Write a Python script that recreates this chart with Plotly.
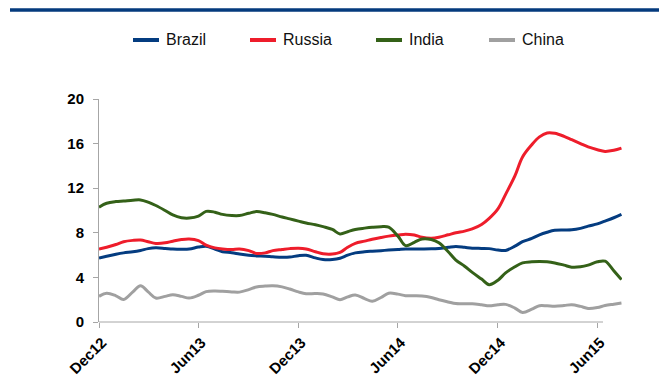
import pandas as pd
import plotly.graph_objects as go

# Semi-monthly observations, Dec 2012 - Jul 2015
dates = pd.date_range("2012-12-01", periods=64, freq="SMS")

brazil = [5.73, 5.9, 6.08, 6.2, 6.3, 6.42, 6.58, 6.65, 6.6, 6.55, 6.53, 6.55, 6.72, 6.8, 6.55, 6.3,
          6.22, 6.1, 5.98, 5.93, 5.9, 5.85, 5.8, 5.82, 5.95, 5.98, 5.75, 5.6, 5.6, 5.72, 6.0, 6.2,
          6.3, 6.35, 6.4, 6.45, 6.5, 6.55, 6.55, 6.55, 6.56, 6.6, 6.7, 6.78, 6.7, 6.62, 6.6, 6.58,
          6.45, 6.42, 6.8, 7.2, 7.5, 7.82, 8.05, 8.22, 8.25, 8.27, 8.4, 8.6, 8.8, 9.05, 9.35, 9.65]

russia = [6.55, 6.7, 6.95, 7.2, 7.32, 7.35, 7.2, 7.05, 7.1, 7.25, 7.4, 7.45, 7.3, 6.9, 6.65, 6.55,
          6.5, 6.55, 6.4, 6.15, 6.2, 6.4, 6.5, 6.58, 6.62, 6.55, 6.3, 6.12, 6.1, 6.25, 6.7, 7.05,
          7.25, 7.42, 7.58, 7.7, 7.8, 7.88, 7.8, 7.6, 7.52, 7.6, 7.82, 8.0, 8.15, 8.35, 8.75, 9.3,
          10.15, 11.45, 13.1, 14.8, 15.9, 16.6, 16.95, 16.92, 16.65, 16.35, 16.0, 15.7, 15.45, 15.3, 15.4, 15.6]

india = [10.3, 10.65, 10.8, 10.85, 10.92, 10.95, 10.75, 10.45, 10.0, 9.6, 9.35, 9.32, 9.5, 9.92, 9.85, 9.65,
         9.55, 9.55, 9.75, 9.9, 9.8, 9.65, 9.42, 9.25, 9.05, 8.88, 8.72, 8.55, 8.3, 7.9, 8.1, 8.3,
         8.42, 8.5, 8.55, 8.5, 7.7, 6.85, 7.15, 7.45, 7.4, 7.1, 6.3, 5.55, 5.0, 4.45, 3.85, 3.35,
         3.75, 4.4, 4.95, 5.3, 5.4, 5.43, 5.4, 5.3, 5.1, 4.92, 4.95, 5.1, 5.4, 5.45, 4.6, 3.8]

china = [2.3, 2.58, 2.35, 2.02, 2.7, 3.25, 2.7, 2.15, 2.3, 2.45, 2.3, 2.15, 2.4, 2.72, 2.78, 2.75,
         2.7, 2.68, 2.9, 3.14, 3.22, 3.25, 3.15, 2.96, 2.7, 2.54, 2.55, 2.51, 2.25, 2.0, 2.25, 2.42,
         2.1, 1.85, 2.2, 2.58, 2.5, 2.36, 2.35, 2.33, 2.2, 2.0, 1.8, 1.65, 1.64, 1.64, 1.55, 1.46,
         1.55, 1.58, 1.25, 0.86, 1.15, 1.46, 1.45, 1.42, 1.48, 1.55, 1.4, 1.22, 1.3, 1.48, 1.6, 1.7]

series_names = ["Brazil", "Russia", "India", "China"]
series_values = [brazil, russia, india, china]
series_colors = ["#043C80", "#EE1D2B", "#346118", "#A0A0A0"]

tick_dates = ["2012-12-01", "2013-06-01", "2013-12-01", "2014-06-01", "2014-12-01", "2015-06-01"]
tick_labels = ["Dec12", "Jun13", "Dec13", "Jun14", "Dec14", "Jun15"]

W, H = 659, 391
ML, MR, MT, MB = 99, 37, 99, 69
PW, PH = W - ML - MR, H - MT - MB
AXIS_GREY = "#A6A6A6"
FONT = "Liberation Sans, Arial, sans-serif"


def px_x(px):
    return (px - ML) / PW


def px_y(py):
    return (H - MB - py) / PH


fig = go.Figure()
for name, vals, col in zip(series_names, series_values, series_colors):
    fig.add_trace(go.Scatter(
        x=dates, y=vals, name=name, mode="lines",
        line=dict(color=col, width=3, shape="spline", smoothing=1.0),
        showlegend=False,
    ))

shapes = []
annotations = []

# Header rule
shapes.append(dict(type="line", xref="paper", yref="paper",
                   x0=px_x(10), x1=px_x(W + 2), y0=px_y(10), y1=px_y(10),
                   line=dict(color="#043A7D", width=3.5)))

# Horizontal axis line (stops short of the last observations)
shapes.append(dict(type="line", xref="paper", yref="paper",
                   x0=0, x1=px_x(603), y0=0, y1=0,
                   line=dict(color=AXIS_GREY, width=1)))

# Legend row
legend_x = [133, 250, 376, 489]
for name, col, lx in zip(series_names, series_colors, legend_x):
    shapes.append(dict(type="line", xref="paper", yref="paper",
                       x0=px_x(lx), x1=px_x(lx + 26), y0=px_y(40), y1=px_y(40),
                       line=dict(color=col, width=4)))
    annotations.append(dict(xref="paper", yref="paper", x=px_x(lx + 31), y=px_y(40),
                            text=name, showarrow=False, xanchor="left", yanchor="middle",
                            font=dict(family=FONT, size=16, color="#111111")))

fig.update_layout(
    width=W, height=H,
    margin=dict(l=ML, r=MR, t=MT, b=MB, pad=0),
    paper_bgcolor="white", plot_bgcolor="white",
    shapes=shapes, annotations=annotations,
    showlegend=False,
    xaxis=dict(
        type="date", range=["2012-12-01", "2015-07-16"],
        tickvals=tick_dates, ticktext=tick_labels, tickangle=-45,
        ticks="outside", ticklen=5, tickcolor=AXIS_GREY, tickwidth=1,
        showline=False, showgrid=False, zeroline=False, ticklabelshift=3,
        tickfont=dict(family=FONT, size=15, color="black", weight="bold"),
    ),
    yaxis=dict(
        range=[0, 20], tickvals=[0, 4, 8, 12, 16, 20],
        ticks="outside", ticklen=5, tickcolor=AXIS_GREY, tickwidth=1,
        showline=True, linecolor=AXIS_GREY, linewidth=1,
        showgrid=False, zeroline=False, ticklabelstandoff=6,
        tickfont=dict(family=FONT, size=15, color="black", weight="bold"),
    ),
)

fig.write_html("out.html")
